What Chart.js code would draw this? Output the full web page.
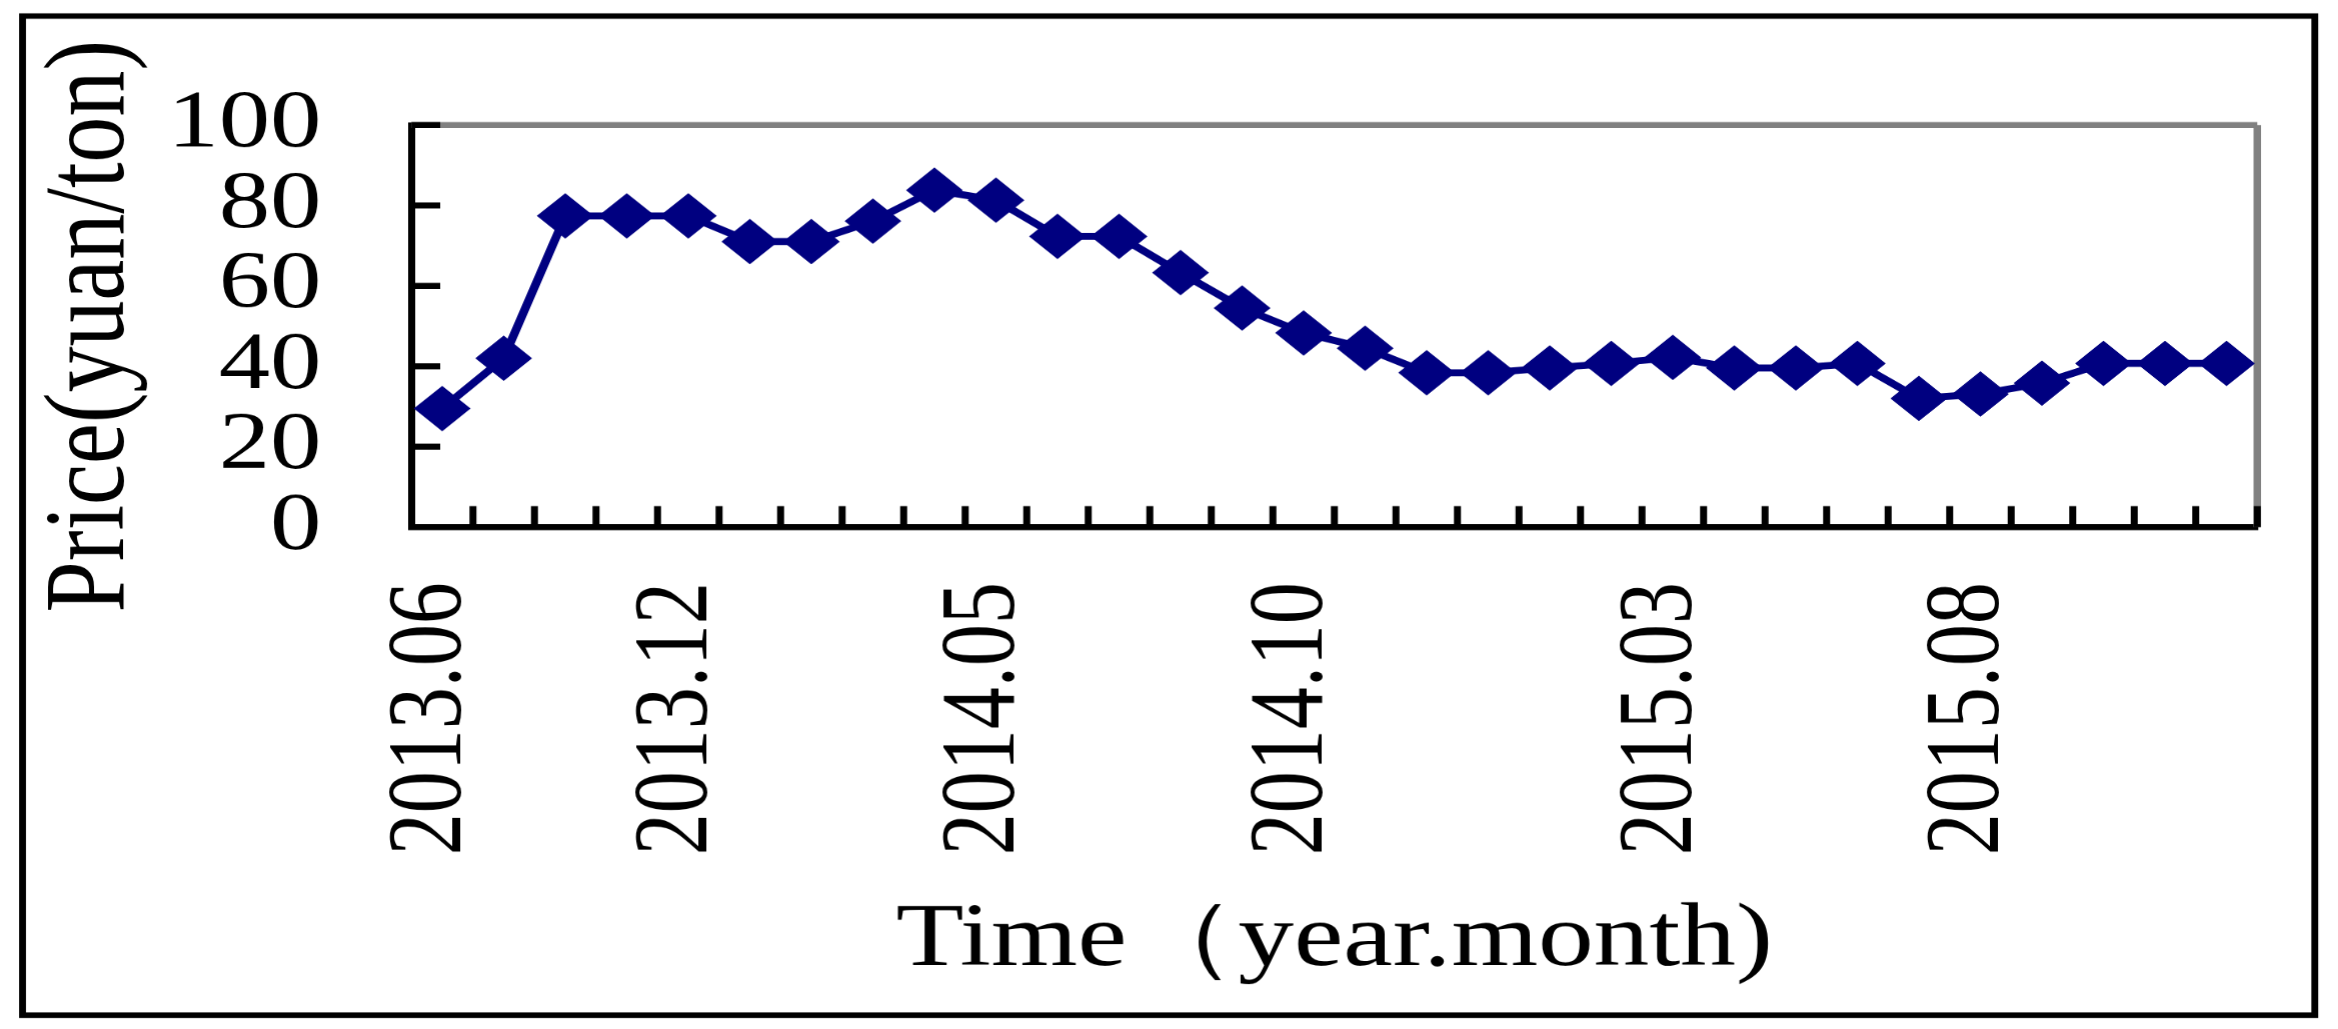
<!DOCTYPE html>
<html>
<head>
<meta charset="utf-8">
<script src="https://cdn.jsdelivr.net/npm/chart.js@4"></script>
<style>
  html, body { margin: 0; padding: 0; background: #fff; overflow: hidden; }
  /* the original picture is stretched sideways, so the whole chart is drawn narrower and scaled */
  #wrap { width: 1870px; height: 1029px; transform: scaleX(1.2503); transform-origin: 0 0; }
</style>
</head>
<body>
<div id="wrap"><canvas id="chart" width="1870" height="1029"></canvas></div>
<script>
// Kategorien (nur einige sind beschriftet)
const categories = ['2013.06', '', '', '', '2013.12', '', '', '', '', '2014.05',
                    '', '', '', '', '2014.10', '', '', '', '', '',
                    '2015.03', '', '', '', '', '2015.08', '', '', '', ''];

// Preis (yuan/ton)
const prices = [29.5, 42, 77.4, 77.4, 77.4, 71, 71, 76.1, 83.8, 81.3,
                72.3, 72.3, 63.3, 54.5, 48.3, 44.5, 38.4, 38.4, 39.6, 40.7,
                42.2, 39.6, 39.6, 40.7, 32, 33.1, 35.8, 40.7, 40.7, 40.7];

const yTicks = [0, 20, 40, 60, 80, 100];

Chart.defaults.font.family = 'Liberation Serif';
Chart.defaults.color = '#000';

// Rahmen, grauer Plotrand und nach innen zeigende Striche
const frame = {
  id: 'frame',
  beforeDraw(chart) {
    const ctx = chart.ctx;
    ctx.save();
    ctx.strokeStyle = '#000';
    ctx.lineWidth = 5.5;
    ctx.strokeRect(18, 16, 1833, 999);
    ctx.restore();
  },
  beforeDatasetsDraw(chart) {
    const ctx = chart.ctx;
    const a = chart.chartArea;
    const xs = chart.scales.x;
    const ys = chart.scales.y;
    ctx.save();
    ctx.strokeStyle = '#808080';
    ctx.lineWidth = 6;
    ctx.beginPath();
    ctx.moveTo(a.left, a.top);
    ctx.lineTo(a.right, a.top);
    ctx.moveTo(a.right, a.top);
    ctx.lineTo(a.right, a.bottom);
    ctx.stroke();

    ctx.strokeStyle = '#000';
    ctx.lineWidth = 6;
    ctx.beginPath();
    yTicks.slice(1).forEach(v => {
      const y = ys.getPixelForValue(v);
      ctx.moveTo(a.left, y);
      ctx.lineTo(a.left + 23, y);
    });
    ctx.stroke();

    ctx.lineWidth = 5.6;
    ctx.beginPath();
    for (let i = 1; i <= categories.length; i++) {
      const x = xs.getPixelForValue(i - 0.5);
      ctx.moveTo(x, a.bottom);
      ctx.lineTo(x, a.bottom - 21);
    }
    ctx.stroke();
    ctx.restore();
  }
};

new Chart(document.getElementById('chart'), {
  type: 'line',
  data: {
    labels: categories,
    datasets: [{
      data: prices,
      borderColor: '#000080',
      backgroundColor: '#000080',
      borderWidth: 7,
      tension: 0,
      pointStyle: 'rectRot',
      pointRadius: 22,
      pointBorderWidth: 1,
      pointBackgroundColor: '#000080',
      pointBorderColor: '#000080'
    }]
  },
  options: {
    responsive: false,
    devicePixelRatio: 1.25,
    animation: false,
    layout: { padding: { left: 0, top: 125, right: 65, bottom: 0 } },
    plugins: { legend: { display: false }, tooltip: { enabled: false } },
    scales: {
      x: {
        type: 'category',
        offset: true,
        grid: { display: true, drawOnChartArea: false, drawTicks: false, offset: true },
        border: { display: true, color: '#000', width: 6 },
        ticks: {
          autoSkip: false,
          maxRotation: 90,
          minRotation: 90,
          padding: 55,
          labelOffset: -8,
          font: { size: 84 }
        },
        title: {
          display: true,
          text: 'Time（year.month)',
          font: { size: 89 },
          padding: { top: 0, bottom: 34 }
        },
        afterFit(scale) {
          scale.height = 502;
          scale.paddingLeft = 0;
          scale.paddingRight = 0;
        }
      },
      y: {
        min: 0,
        max: 100,
        grid: { display: true, drawOnChartArea: false, drawTicks: false },
        border: { display: true, color: '#000', width: 5.6 },
        ticks: {
          stepSize: 20,
          autoSkip: false,
          padding: 72,
          font: { size: 82 }
        },
        title: {
          display: true,
          text: 'Price(yuan/ton)',
          font: { size: 92 },
          padding: { top: 19, bottom: 0 }
        },
        afterFit(scale) {
          scale.width = 329;
          scale.paddingTop = 0;
          scale.paddingBottom = 0;
        }
      }
    }
  },
  plugins: [frame]
});
</script>
</body>
</html>
